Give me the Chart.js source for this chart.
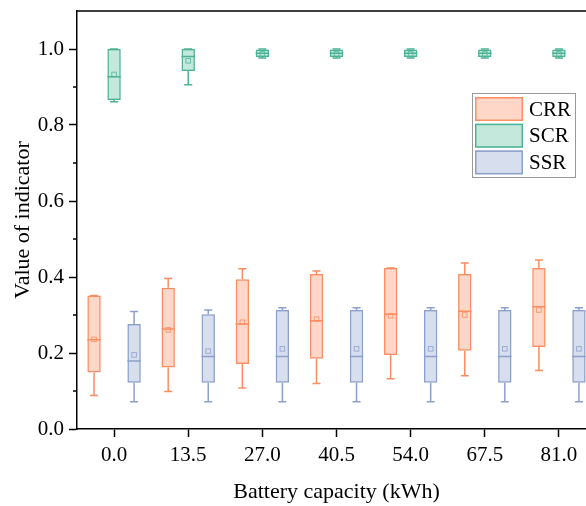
<!DOCTYPE html>
<html>
<head>
<meta charset="utf-8">
<title>Battery capacity box plot</title>
<script src="https://cdn.jsdelivr.net/npm/chart.js@4.4.1/dist/chart.umd.min.js"></script>
<style>
  html, body { margin: 0; padding: 0; overflow: hidden; background: #fff; }
  #wrap { width: 600px; height: 506px; }
</style>
</head>
<body>
<div id="wrap"><canvas id="boxChart"></canvas></div>
<script>
// categories (battery capacity, kWh)
var categories = ['0.0', '13.5', '27.0', '40.5', '54.0', '67.5', '81.0'];

// CRR
var crrMin  = [0.088, 0.099, 0.108, 0.120, 0.132, 0.140, 0.154];
var crrQ1   = [0.149, 0.162, 0.171, 0.185, 0.195, 0.206, 0.216];
var crrMed  = [0.235, 0.263, 0.276, 0.285, 0.302, 0.310, 0.322];
var crrMean = [0.236, 0.261, 0.281, 0.289, 0.298, 0.300, 0.313];
var crrQ3   = [0.351, 0.372, 0.394, 0.408, 0.424, 0.408, 0.424];
var crrMax  = [0.351, 0.396, 0.422, 0.416, 0.424, 0.437, 0.445];

// SCR
var scrMin  = [0.861, 0.906, 0.976, 0.976, 0.976, 0.976, 0.976];
var scrQ1   = [0.866, 0.942, 0.979, 0.979, 0.979, 0.979, 0.979];
var scrMed  = [0.927, 0.980, 0.989, 0.989, 0.989, 0.989, 0.989];
var scrMean = [0.933, 0.969, 0.987, 0.987, 0.987, 0.987, 0.987];
var scrQ3   = [1.000, 1.000, 0.999, 0.999, 0.999, 0.999, 0.999];
var scrMax  = [1.000, 1.000, 1.000, 1.000, 1.000, 1.000, 1.000];

// SSR
var ssrMin  = [0.072, 0.072, 0.072, 0.072, 0.072, 0.072, 0.072];
var ssrQ1   = [0.122, 0.122, 0.122, 0.122, 0.122, 0.122, 0.122];
var ssrMed  = [0.179, 0.191, 0.191, 0.191, 0.191, 0.191, 0.191];
var ssrMean = [0.195, 0.205, 0.211, 0.211, 0.211, 0.211, 0.211];
var ssrQ3   = [0.276, 0.302, 0.313, 0.313, 0.313, 0.313, 0.313];
var ssrMax  = [0.309, 0.313, 0.319, 0.319, 0.319, 0.319, 0.319];

var yTicks = [0.0, 0.2, 0.4, 0.6, 0.8, 1.0];
var yMinorTicks = [0.1, 0.3, 0.5, 0.7, 0.9];

Chart.defaults.font.family = '"Liberation Serif", "Times New Roman", serif';
Chart.defaults.color = '#000';

function makeBoxSet(label, stroke, fill, q1, q3, min, med, mean, max) {
  return {
    label: label,
    data: q1.map(function (v, i) { return [v, q3[i]]; }),
    backgroundColor: fill,
    borderColor: stroke,
    borderWidth: 1.5,
    borderSkipped: false,
    stats: { min: min, med: med, mean: mean, max: max }
  };
}

// whiskers, caps, median and mean marks on top of the floating bars
var boxExtras = {
  id: 'boxExtras',
  afterDatasetsDraw: function (chart) {
    var ctx = chart.ctx, ys = chart.scales.y;
    chart.data.datasets.forEach(function (ds, di) {
      var meta = chart.getDatasetMeta(di);
      var st = ds.stats;
      meta.data.forEach(function (bar, i) {
        var x = bar.x, w = bar.width, cap = w * 0.6;
        var pQ1 = ys.getPixelForValue(ds.data[i][0]);
        var pQ3 = ys.getPixelForValue(ds.data[i][1]);
        var pMin = ys.getPixelForValue(st.min[i]);
        var pMax = ys.getPixelForValue(st.max[i]);
        var pMed = ys.getPixelForValue(st.med[i]);
        var pMean = ys.getPixelForValue(st.mean[i]);
        ctx.save();
        ctx.strokeStyle = ds.borderColor;
        ctx.lineWidth = 1.5;
        ctx.beginPath();
        // upper whisker
        ctx.moveTo(x, pQ3); ctx.lineTo(x, pMax);
        ctx.moveTo(x - cap / 2, pMax); ctx.lineTo(x + cap / 2, pMax);
        // lower whisker
        ctx.moveTo(x, pQ1); ctx.lineTo(x, pMin);
        ctx.moveTo(x - cap / 2, pMin); ctx.lineTo(x + cap / 2, pMin);
        // median
        ctx.moveTo(x - w / 2, pMed); ctx.lineTo(x + w / 2, pMed);
        ctx.stroke();
        // mean
        ctx.lineWidth = 1;
        ctx.globalAlpha = 0.8;
        ctx.strokeRect(x - 2.3, pMean - 2.3, 4.6, 4.6);
        ctx.restore();
      });
    });
  },
  afterDraw: function (chart) {
    var ctx = chart.ctx, a = chart.chartArea, ys = chart.scales.y;
    ctx.save();
    // top frame line
    ctx.strokeStyle = '#000';
    ctx.lineWidth = 1.5;
    ctx.beginPath();
    ctx.moveTo(a.left - 0.75, a.top);
    ctx.lineTo(a.right, a.top);
    // minor ticks
    yMinorTicks.forEach(function (v) {
      var p = ys.getPixelForValue(v);
      ctx.moveTo(a.left - 4, p);
      ctx.lineTo(a.left, p);
    });
    ctx.stroke();

    // legend box
    var lx = a.right - 124, ly = a.top + 82;
    ctx.strokeStyle = '#999';
    ctx.lineWidth = 1;
    ctx.strokeRect(lx + 0.5, ly + 0.5, 103, 84);
    ctx.font = '21px "Liberation Serif", "Times New Roman", serif';
    ctx.textBaseline = 'middle';
    ctx.textAlign = 'left';
    chart.data.datasets.forEach(function (ds, i) {
      var sy = ly + 4 + i * 26.7;
      ctx.fillStyle = ds.backgroundColor;
      ctx.fillRect(lx + 3, sy, 48, 24);
      ctx.strokeStyle = ds.borderColor;
      ctx.lineWidth = 1.5;
      ctx.strokeRect(lx + 3.75, sy + 0.75, 46.5, 22.5);
      ctx.fillStyle = '#000';
      ctx.fillText(ds.label, lx + 57, sy + 13);
    });
    ctx.restore();
  }
};

new Chart(document.getElementById('boxChart'), {
  type: 'bar',
  data: {
    labels: categories,
    datasets: [
      makeBoxSet('CRR', '#FC8D62', 'rgba(252,141,98,0.35)', crrQ1, crrQ3, crrMin, crrMed, crrMean, crrMax),
      makeBoxSet('SCR', '#4DB396', 'rgba(102,194,165,0.38)', scrQ1, scrQ3, scrMin, scrMed, scrMean, scrMax),
      makeBoxSet('SSR', '#8DA0CB', 'rgba(141,160,203,0.35)', ssrQ1, ssrQ3, ssrMin, ssrMed, ssrMean, ssrMax)
    ]
  },
  options: {
    responsive: true,
    maintainAspectRatio: false,
    animation: false,
    categoryPercentage: 0.81,
    barPercentage: 0.67,
    layout: { padding: { top: 11, right: 4, left: 0, bottom: 0 } },
    plugins: { legend: { display: false }, tooltip: { enabled: false } },
    scales: {
      x: {
        offset: true,
        grid: { offset: false, drawOnChartArea: false, drawTicks: true, tickLength: 8, tickColor: '#000', tickWidth: 1.5 },
        border: { color: '#000', width: 1.5 },
        ticks: { font: { size: 21 }, padding: 6, maxRotation: 0 },
        title: { display: true, text: 'Battery capacity (kWh)', font: { size: 22 }, padding: { top: 0, bottom: 1 } },
        afterFit: function (s) { s.height = 77; s.paddingLeft = 0; s.paddingRight = 0; }
      },
      y: {
        min: 0,
        max: 1.1,
        grid: { drawOnChartArea: false, drawTicks: true, tickLength: 8, tickColor: '#000', tickWidth: 1.5 },
        border: { color: '#000', width: 1.5 },
        afterBuildTicks: function (s) { s.ticks = yTicks.map(function (v) { return { value: v }; }); },
        ticks: {
          font: { size: 21 },
          padding: 5,
          callback: function (v) { return Number(v).toFixed(1); }
        },
        title: { display: true, text: 'Value of indicator', font: { size: 22 }, padding: { top: 10, bottom: 0 } },
        afterFit: function (s) { s.width = 77; s.paddingTop = 0; s.paddingBottom = 0; }
      }
    }
  },
  plugins: [boxExtras]
});
</script>
</body>
</html>
